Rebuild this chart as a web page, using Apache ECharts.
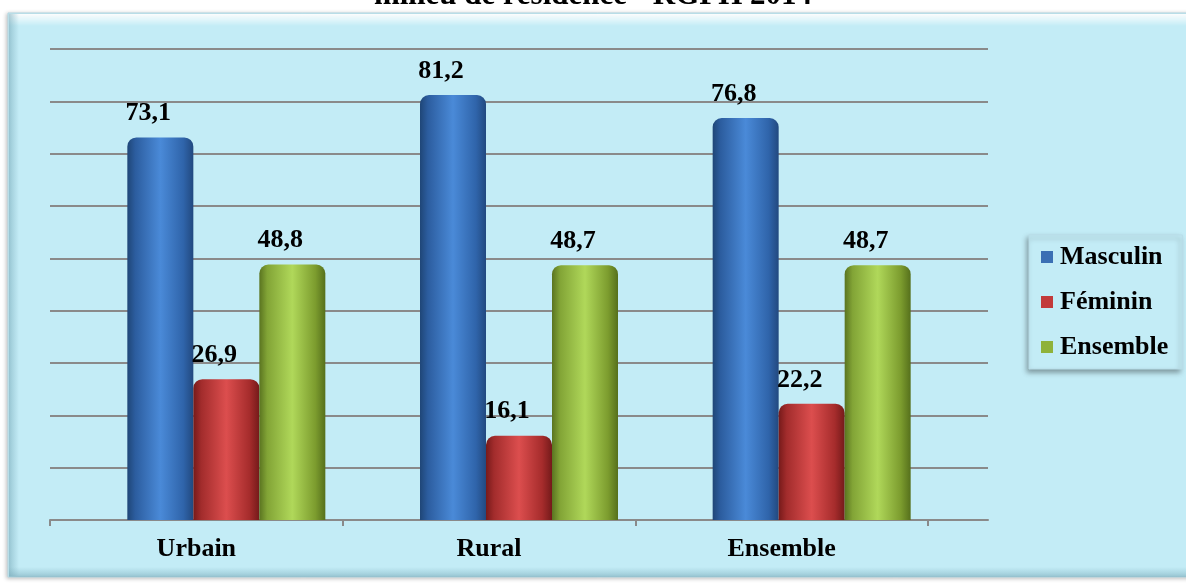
<!DOCTYPE html>
<html>
<head>
<meta charset="utf-8">
<script src="https://cdn.jsdelivr.net/npm/echarts@6/dist/echarts.min.js"></script>
<style>html,body{margin:0;padding:0;background:#fff;}#c{width:1186px;height:583px;}</style>
</head>
<body>
<div id="c"></div>
<script>
const titleText = "milieu de résidence - RGPH 2014";
const categories = ["Urbain", "Rural", "Ensemble"];
const seriesNames = ["Masculin", "Féminin", "Ensemble"];
const masculin = [73.1, 81.2, 76.8];
const feminin = [26.9, 16.1, 22.2];
const ensemble = [48.8, 48.7, 48.7];
const yMin = 0, yMax = 90, yStep = 10;

const FONT = '"Liberation Serif","Times New Roman",serif';
const BG = '#c3ecf6';

function grad(stops) {
  return new echarts.graphic.LinearGradient(0, 0, 1, 0, stops.map((c) => ({offset: c[0], color: c[1]})));
}
const colors = [
  grad([[0,'#1f4677'],[0.12,'#2c5d9f'],[0.5,'#4a8ad8'],[0.85,'#2f64aa'],[1,'#22497f']]),
  grad([[0,'#761a1a'],[0.12,'#a22c2c'],[0.5,'#dc4e4e'],[0.85,'#a62c2c'],[1,'#741a1a']]),
  grad([[0,'#5a7420'],[0.12,'#82a436'],[0.5,'#b0d85a'],[0.85,'#7c9c2e'],[1,'#56701c']])
];
const legendColors = ['#3a6fb4', '#c23a3a', '#8fb23a'];
const dataSets = [masculin, feminin, ensemble];

const chart = echarts.init(document.getElementById('c'), null, {renderer: 'canvas'});

const yAxisBase = {type: 'value', min: yMin, max: yMax, interval: yStep,
  axisLabel: {show: false}, axisTick: {show: false}, axisLine: {show: false}};

const option = {
  backgroundColor: '#ffffff',
  animation: false,
  graphic: [
    {type: 'rect', z: -10, shape: {x: 8, y: 13, width: 1190, height: 564},
      style: {fill: BG, stroke: '#b5d9e4', lineWidth: 1, shadowBlur: 4, shadowColor: 'rgba(0,0,0,0.25)', shadowOffsetX: -1, shadowOffsetY: 1}},
    {type: 'rect', z: -9, shape: {x: 9, y: 14, width: 1190, height: 12},
      style: {fill: new echarts.graphic.LinearGradient(0,0,0,1,[{offset:0,color:'rgba(255,255,255,0.95)'},{offset:1,color:'rgba(255,255,255,0)'}])}},
    {type: 'rect', z: -9, shape: {x: 9, y: 14, width: 10, height: 562},
      style: {fill: new echarts.graphic.LinearGradient(0,0,1,0,[{offset:0,color:'rgba(120,170,185,0.55)'},{offset:1,color:'rgba(120,170,185,0)'}])}},
    {type: 'rect', z: -9, shape: {x: 9, y: 567, width: 1190, height: 10},
      style: {fill: new echarts.graphic.LinearGradient(0,0,0,1,[{offset:0,color:'rgba(120,170,185,0)'},{offset:1,color:'rgba(120,170,185,0.55)'}])}}
  ],
  title: {
    text: titleText, left: 'center', top: -25,
    textStyle: {fontFamily: FONT, fontWeight: 'bold', fontSize: 31, color: '#000'}
  },
  legend: {
    orient: 'vertical', left: 1029, top: 235,
    data: seriesNames.map((n, i) => ({name: n, itemStyle: {color: legendColors[i]}})),
    itemWidth: 12, itemHeight: 12, itemGap: 19, icon: 'rect',
    padding: [9, 14, 9, 12],
    backgroundColor: BG, borderColor: '#b8dde8', borderWidth: 1,
    shadowBlur: 5, shadowColor: 'rgba(0,0,0,0.35)', shadowOffsetX: -2, shadowOffsetY: 3,
    textStyle: {fontFamily: FONT, fontWeight: 'bold', fontSize: 26, color: '#000', padding: [0, 0, 0, 2]}
  },
  grid: [
    {left: 50, right: 198, top: 49, bottom: 63},
    {left: 50, right: 258, top: 49, bottom: 63},
    {left: 80, right: 228, top: 49, bottom: 63}
  ],
  xAxis: [
    {gridIndex: 0, type: 'value', min: 0, max: 1, axisLabel: {show: false}, axisTick: {show: false},
      splitLine: {show: false}, axisLine: {show: true, lineStyle: {color: '#8a8a8a', width: 2}}},
    {gridIndex: 1, type: 'category', data: categories, axisLine: {show: false},
      axisTick: {show: true, length: 6, lineStyle: {color: '#8a8a8a', width: 2}},
      axisLabel: {margin: 16, fontFamily: FONT, fontWeight: 'bold', fontSize: 26, color: '#000'}},
    {gridIndex: 2, type: 'category', data: categories, show: false}
  ],
  yAxis: [
    Object.assign({gridIndex: 0, splitLine: {show: true, lineStyle: {color: '#8a8a8a', width: 2}}}, yAxisBase),
    Object.assign({gridIndex: 1, splitLine: {show: false}, show: false}, yAxisBase),
    Object.assign({gridIndex: 2, splitLine: {show: false}, show: false}, yAxisBase)
  ],
  series: seriesNames.map((n, i) => ({
    name: n, type: 'bar', xAxisIndex: 2, yAxisIndex: 2,
    data: dataSets[i], barWidth: 66, barGap: '0%',
    itemStyle: {color: colors[i], borderRadius: [9, 9, 0, 0]},
    label: {show: true, position: 'top', distance: 11, offset: [-12, 0],
      fontFamily: FONT, fontWeight: 'bold', fontSize: 26, color: '#000',
      formatter: p => p.value.toFixed(1).replace('.', ',')}
  }))
};
chart.setOption(option);
</script>
</body>
</html>
